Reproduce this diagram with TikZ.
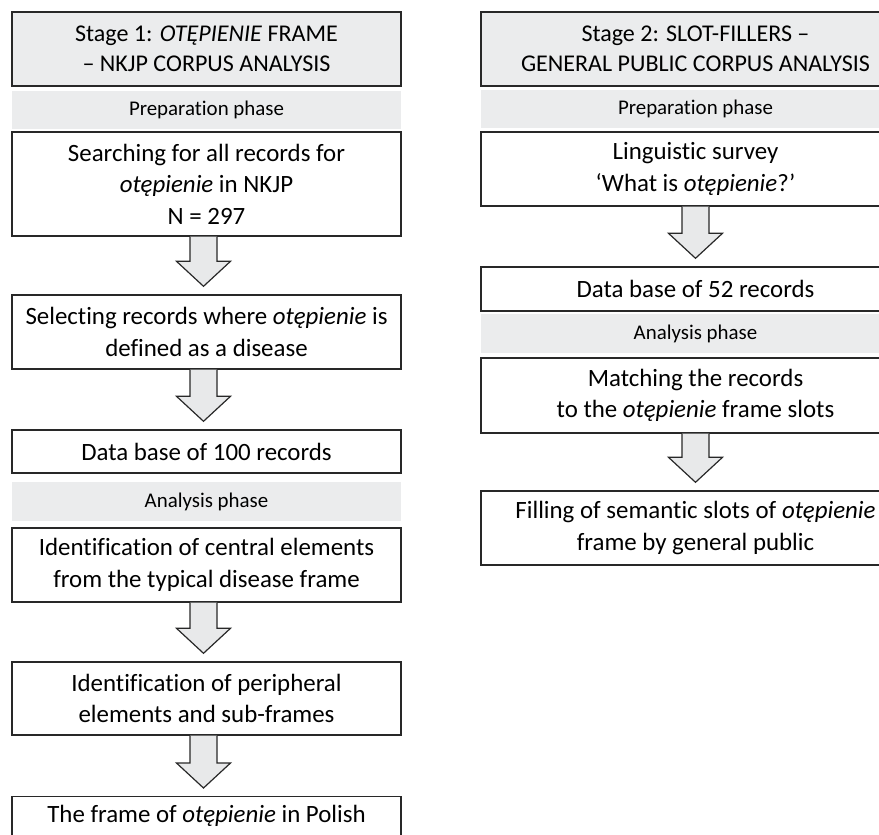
\documentclass[tikz,border=0pt]{standalone}
\usepackage{fontspec}
\setmainfont[Ligatures=NoCommon]{Carlito}
\usetikzlibrary{calc}
\definecolor{bandgray}{RGB}{235,236,237}
\definecolor{arrowgray}{RGB}{232,233,234}
\definecolor{edgecol}{RGB}{40,40,40}
\newlength{\lwa}\newlength{\lwb}\newlength{\lwe}
\begin{document}
\fontsize{24}{31}\selectfont
\settowidth{\lwa}{Selecting records where \textit{otępienie} is}
\settowidth{\lwb}{GENERAL PUBLIC CORPUS ANALYSIS}
\settowidth{\lwe}{Preparation phase}
\pgfmathsetmacro{\bodysz}{24*362/\lwa}
\pgfmathsetmacro{\headsz}{24*349/\lwb}
\pgfmathsetmacro{\phasesz}{24*155/\lwe}
\newcommand{\mainsize}{\fontsize{\bodysz}{31.5}\selectfont}
\newcommand{\headsize}{\fontsize{\headsz}{30}\selectfont}
\newcommand{\phasesize}{\fontsize{\phasesz}{25}\selectfont}
\begin{tikzpicture}[x=1pt,y=-1pt,
  box/.style={draw=edgecol, line width=1.4pt, minimum height=#1, inner sep=0pt, align=center, font=\mainsize},
  lbox/.style={box=#1, minimum width=389pt},
  rbox/.style={box=#1, minimum width=429pt},
  header/.style={fill=bandgray, font=\headsize},
  band/.style={fill=bandgray, minimum height=#1, inner sep=0pt, font=\phasesize},
  barrow/.style={draw=edgecol, line width=1.2pt, fill=arrowgray,
    to path={let \p1=(\tikztostart), \p2=(\tikztotarget) in
      (\x1-13.5pt,\y1) -- (\x1-13.5pt,\y2+33pt) -- (\x1-27pt,\y2+33pt) -- (\x1,\y2+8pt)
      -- (\x1+27pt,\y2+33pt) -- (\x1+13.5pt,\y2+33pt) -- (\x1+13.5pt,\y1)}}
]
\useasboundingbox (0,0) rectangle (879,835);
\clip (0,0) rectangle (879,835);

% Left column
\node[lbox=74, header] (h1) at (206.5,49) {Stage 1: \textit{OTĘPIENIE} FRAME\\– NKJP CORPUS ANALYSIS};
\node[band=38, minimum width=389pt] (p1) at (206.5,110) {Preparation phase};
\node[lbox=104] (s1) at (206.5,184) {Searching for all records for\\\textit{otępienie} in NKJP\\N = 297};
\node[lbox=74] (s2) at (206.5,332) {Selecting records where \textit{otępienie} is\\defined as a disease};
\node[lbox=43] (s3) at (206.5,451.5) {Data base of 100 records};
\node[band=39, minimum width=389pt] (a1) at (206.5,501.5) {Analysis phase};
\node[lbox=74] (s4) at (206.5,565) {Identification of central elements\\from the typical disease frame};
\node[lbox=73] (s5) at (206.5,698.5) {Identification of peripheral\\elements and sub-frames};
\node[draw=edgecol, line width=1.4pt, inner sep=0pt, minimum width=389pt, font=\mainsize,
      text height=26pt, text depth=50pt, anchor=north] (s6) at (206.5,796) {The frame of \textit{otępienie} in Polish};

% Right column
\node[rbox=74, header] (h2) at (695.5,49) {Stage 2: SLOT-FILLERS –\\GENERAL PUBLIC CORPUS ANALYSIS};
\node[band=38, minimum width=429pt] (p2) at (695.5,109) {Preparation phase};
\node[rbox=74] (r1) at (695.5,169) {Linguistic survey\\‘What is \textit{otępienie}?’};
\node[rbox=44] (r2) at (695.5,289) {Data base of 52 records};
\node[band=39, minimum width=429pt] (a2) at (695.5,333.5) {Analysis phase};
\node[rbox=75] (r3) at (695.5,395.5) {Matching the records\\to the \textit{otępienie} frame slots};
\node[rbox=74] (r4) at (695.5,528) {Filling of semantic slots of \textit{otępienie}\\frame by general public};

% Arrows
\draw[barrow] ([xshift=-3pt]s1.south) to (s2.north);
\draw[barrow] ([xshift=-3pt]s2.south) to (s3.north);
\draw[barrow] ([xshift=-3pt]s4.south) to (s5.north);
\draw[barrow] ([xshift=-3pt]s5.south) to (s6.north);
\draw[barrow] (r1.south) to (r2.north);
\draw[barrow] (r3.south) to (r4.north);
\end{tikzpicture}
\end{document}
